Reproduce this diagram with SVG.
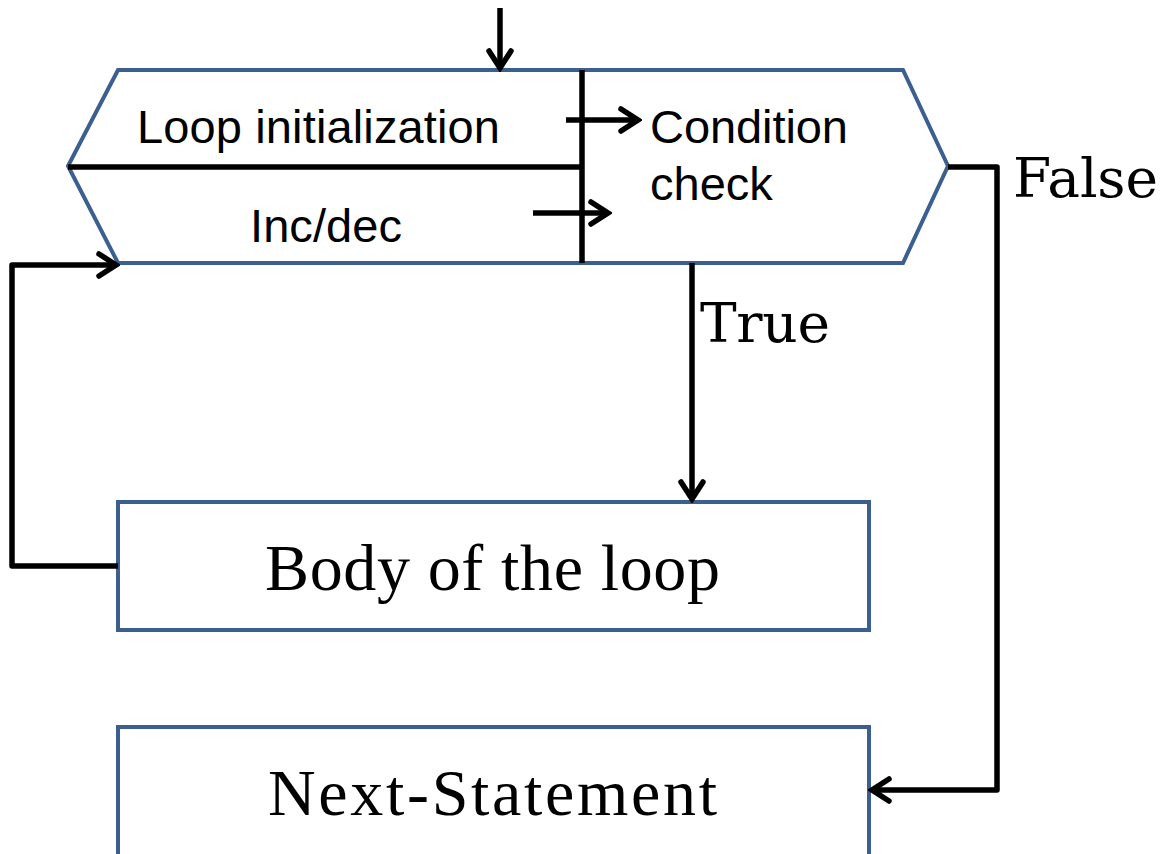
<svg xmlns="http://www.w3.org/2000/svg" width="1163" height="854" viewBox="0 0 1163 854">
  <style>
    .shape { fill: #ffffff; stroke: #3B5F8E; stroke-width: 4; stroke-linejoin: miter; }
    .wire { fill: none; stroke: #000000; stroke-width: 5.5; stroke-linejoin: round; }
    .sans { font-family: "Liberation Sans", Arial, sans-serif; font-size: 47px; fill: #000000; }
    .serif { font-family: "Liberation Serif", "Times New Roman", serif; fill: #000000; }
    .label { font-family: "DejaVu Serif", "Liberation Serif", serif; font-size: 55px; fill: #000000; }
  </style>
  <defs>
    <marker id="head" viewBox="-20 -14 24 28" refX="0" refY="0" markerWidth="24" markerHeight="28" markerUnits="userSpaceOnUse" orient="auto">
      <path d="M -17,-11 L 0,0 L -17,11" fill="none" stroke="#000000" stroke-width="5.5" stroke-linecap="round" stroke-linejoin="miter"/>
    </marker>
  </defs>

  <!-- Combined loop header: initialization / inc-dec / condition check -->
  <g id="loop-header">
    <polygon class="shape" points="118,70 903,70 948,166 903,263 118,263 68,166"/>
    <line x1="68" y1="167" x2="582" y2="167" stroke="#000" stroke-width="5.5"/>
    <line x1="582" y1="70" x2="582" y2="263" stroke="#000" stroke-width="5.5"/>
    <text class="sans" x="137" y="143" textLength="363">Loop initialization</text>
    <text class="sans" x="250" y="242" textLength="152">Inc/dec</text>
    <text class="sans" x="650" y="143" textLength="198">Condition</text>
    <text class="sans" x="650" y="200">check</text>
  </g>

  <!-- Loop body -->
  <g id="body">
    <rect class="shape" x="118" y="502" width="751" height="128"/>
    <text class="serif" x="265" y="590" font-size="66" textLength="455">Body of the loop</text>
  </g>

  <!-- Statement after the loop -->
  <g id="next-statement">
    <rect class="shape" x="118" y="727" width="751" height="140"/>
    <text class="serif" x="268" y="815" font-size="66" textLength="449">Next-Statement</text>
  </g>

  <!-- Connectors -->
  <g id="connectors">
    <line class="wire" x1="500" y1="8" x2="500" y2="68" marker-end="url(#head)"/>
    <line class="wire" x1="566" y1="120" x2="638" y2="120" marker-end="url(#head)"/>
    <line class="wire" x1="533" y1="213" x2="608" y2="213" marker-end="url(#head)"/>
    <polyline class="wire" points="692,263 692,499" marker-end="url(#head)"/>
    <polyline class="wire" points="118,566 12,566 12,265 116,265" marker-end="url(#head)"/>
    <polyline class="wire" points="948,167 997,167 997,790 872,790" marker-end="url(#head)"/>
    <text class="label" x="700" y="342" textLength="130">True</text>
    <text class="label" x="1013" y="197" textLength="145">False</text>
  </g>
</svg>
